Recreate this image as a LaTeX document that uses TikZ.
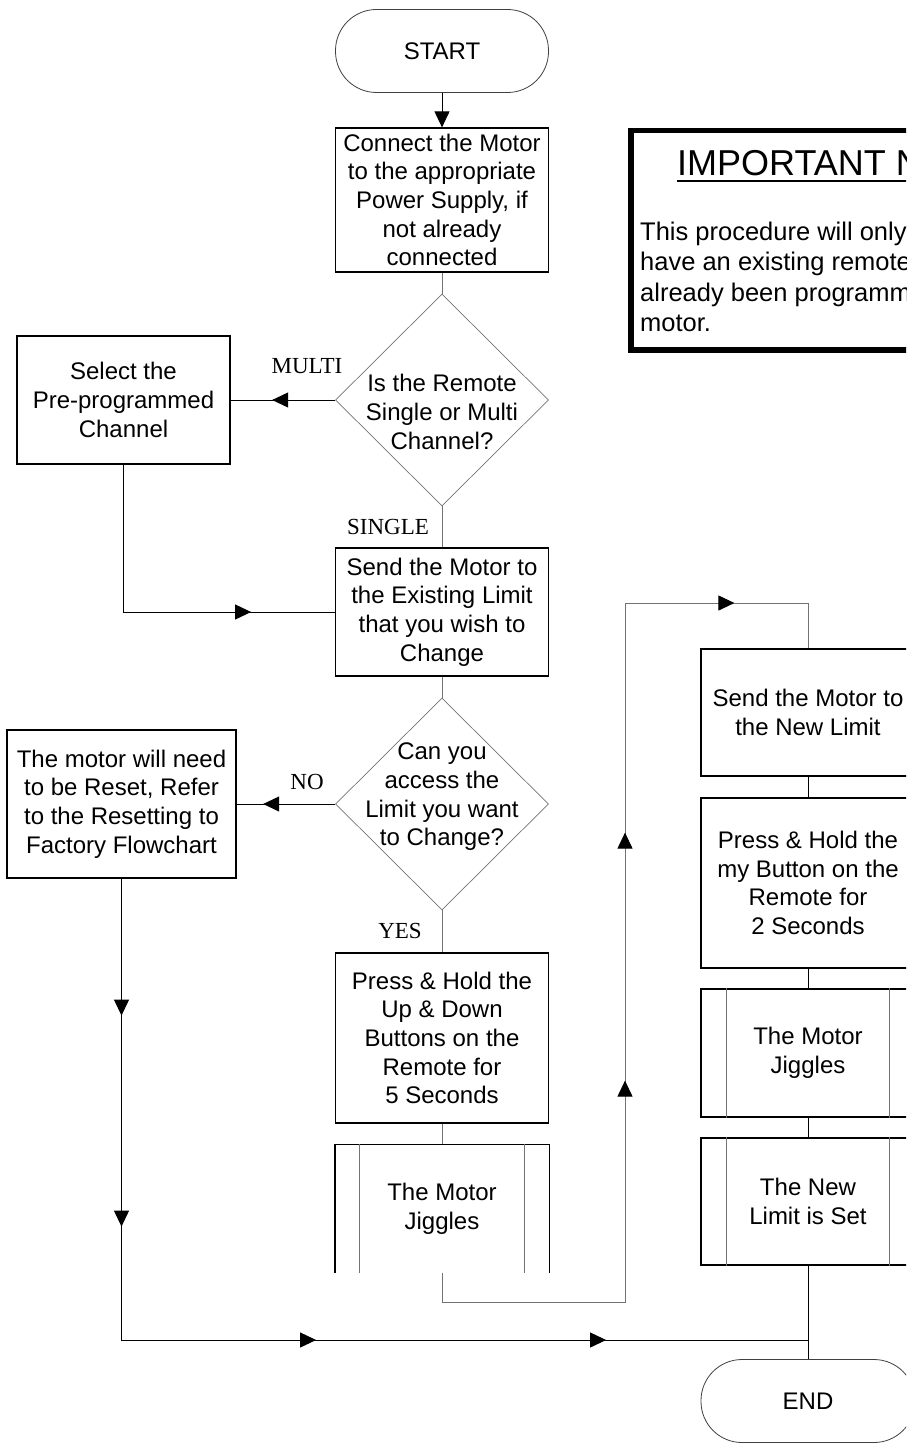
\documentclass[tikz,border=0pt]{standalone}
\usepackage{fontspec}
\setmainfont{Liberation Sans}
\newfontfamily\tagfont{Liberation Serif}
\usetikzlibrary{shapes.geometric, arrows.meta, decorations.markings}

\newcommand{\flowfont}{\fontsize{24}{28.7}\selectfont}
\newcommand{\titlefont}{\fontsize{36}{40}\selectfont}
\newcommand{\notefont}{\fontsize{25.5}{30.3}\selectfont}

\tikzset{
  term/.style={draw=black!75, line width=0.8pt, rounded corners=41pt, minimum width=213pt, minimum height=83pt, font=\flowfont},
  proc/.style={draw, line width=1.2pt, minimum width=213pt, align=center, inner sep=0pt, font=\flowfont},
  decide/.style={diamond, draw=black!55, line width=0.7pt, minimum width=213pt, minimum height=212pt, inner sep=0pt},
  dtext/.style={align=center, inner sep=0pt, font=\flowfont},
  tag/.style={inner sep=0pt, font=\tagfont\fontsize{23}{23}\selectfont},
  flow/.style={line width=1pt},
  link/.style={line width=1pt, draw=black!55},
  inner/.style={line width=0.7pt, draw=black!55},
  flowmark/.style={postaction={decorate, decoration={markings, mark=at position #1 with {\arrow[black]{>}}}}},
}

\begin{document}
\begin{tikzpicture}[x=1pt, y=-1pt, >={Triangle[length=16pt, width=15pt]}]
\useasboundingbox (0,0) rectangle (906,1447);
\clip (0,0) rectangle (906,1447);

% middle column
\node[term] (start) at (442,51) {START};
\node[proc, minimum height=144pt] (power) at (442,200) {Connect the Motor\\to the appropriate\\Power Supply, if\\not already\\connected};
\node[decide] (remote) at (442,400) {};
\node[dtext] (remotetext) at (442,412) {Is the Remote\\Single or Multi\\Channel?};
\node[proc, minimum height=128pt] (existing) at (442,612) {Send the Motor to\\the Existing Limit\\that you wish to\\Change};
\node[decide] (access) at (442,804) {};
\node[dtext] (accesstext) at (442,797) {Can you\\access the\\Limit you want\\to Change?};
\node[proc, minimum height=170pt] (updown) at (442,1038) {Press \& Hold the\\Up \& Down\\Buttons on the\\Remote for\\5 Seconds};
\node[proc, draw=none, minimum height=127pt] (jiggle) at (442,1208.5) {The Motor\\Jiggles};
\draw[line width=1.2pt] (jiggle.south west) -- (jiggle.north west) -- (jiggle.north east) -- (jiggle.south east);
\draw[inner] ([xshift=24pt]jiggle.north west) -- ([xshift=24pt]jiggle.south west);
\draw[inner] ([xshift=-25pt]jiggle.north east) -- ([xshift=-25pt]jiggle.south east);

% left column
\node[proc, minimum height=128pt] (channel) at (123.5,400) {Select the\\Pre-programmed\\Channel};
\node[proc, minimum width=229pt, minimum height=148pt] (reset) at (121.5,804) {The motor will need\\to be Reset, Refer\\to the Resetting to\\Factory Flowchart};

% right column
\node[proc, minimum width=214pt, minimum height=127pt] (newlimit) at (808,712.5) {Send the Motor to\\the New Limit};
\node[proc, minimum width=214pt, minimum height=170pt] (mybutton) at (808,883) {Press \& Hold the\\my Button on the\\Remote for\\2 Seconds};
\node[proc, minimum width=214pt, minimum height=128pt] (jiggletwo) at (808,1053) {The Motor\\Jiggles};
\node[proc, minimum width=214pt, minimum height=127pt] (limitset) at (808,1201.5) {The New\\Limit is Set};
\draw[inner] ([xshift=26pt]jiggletwo.north west) -- ([xshift=26pt]jiggletwo.south west);
\draw[inner] ([xshift=-26pt]jiggletwo.north east) -- ([xshift=-26pt]jiggletwo.south east);
\draw[inner] ([xshift=26pt]limitset.north west) -- ([xshift=26pt]limitset.south west);
\draw[inner] ([xshift=-26pt]limitset.north east) -- ([xshift=-26pt]limitset.south east);
\node[term, minimum width=214pt] (end) at (808,1401) {END};

% note
\node[draw, line width=5.5pt, anchor=north west, minimum width=400pt, minimum height=219pt] (note) at (628,128) {};
\node[anchor=base west, inner sep=0pt, font=\titlefont] (notetitle) at (677,176) {IMPORTANT NOTE};
\draw[line width=2.2pt] ([shift={(0,5)}]notetitle.base west) -- ([shift={(0,5)}]notetitle.base east);
\node[anchor=north west, align=left, inner sep=0pt, font=\notefont] (notebody) at (640,222) {This procedure will only work if you\\have an existing remote that has\\already been programmed to the\\motor.};

% labels
\node[tag] (multi) at (307,366) {MULTI};
\node[tag] (single) at (388,527) {SINGLE};
\node[tag] (no) at (307,782) {NO};
\node[tag] (yes) at (400,931) {YES};

% connectors
\coordinate (merge) at (808,1340);
\draw[flow, ->] (start) -- (power);
\draw[link] (power) -- (remote);
\draw[flow, flowmark=63pt] (remote.west) -- (channel.east);
\draw[link] (remote) -- (existing);
\draw[flow, flowmark=275pt] (channel.south) |- (existing.west);
\draw[link] (existing) -- (access);
\draw[flow, flowmark=72pt] (access.west) -- (reset.east);
\draw[link] (access) -- (updown);
\draw[link] (updown) -- (jiggle);
\draw[link, flowmark=435pt, flowmark=683pt, flowmark=1022pt] (jiggle.south) -- ++(0,30) -| (625,603) -| (newlimit.north);
\draw[flow] (newlimit) -- (mybutton);
\draw[flow] (mybutton) -- (jiggletwo);
\draw[flow] (jiggletwo) -- (limitset);
\draw[flow] (limitset) -- (end);
\draw[flow, flowmark=137pt, flowmark=348pt, flowmark=656pt, flowmark=946pt] (reset.south) |- (merge);
\end{tikzpicture}
\end{document}
